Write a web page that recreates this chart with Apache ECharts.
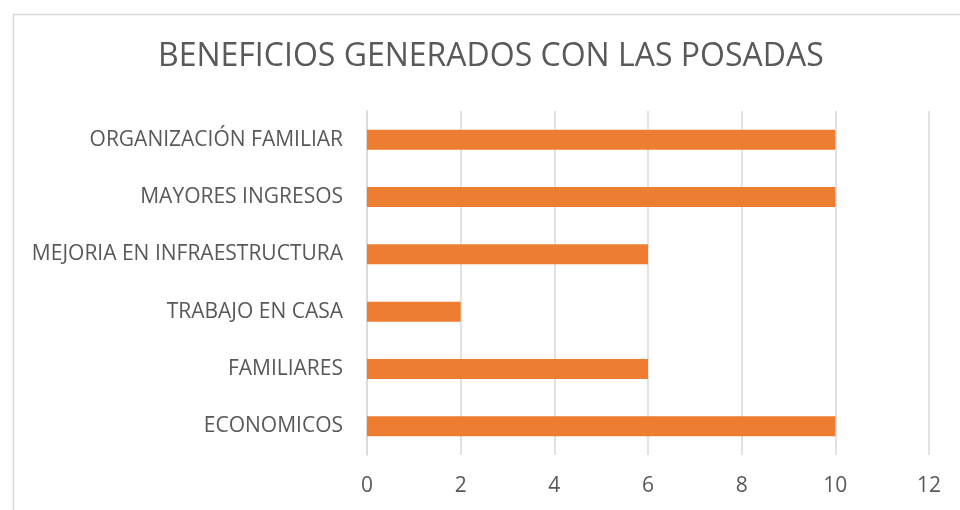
<!DOCTYPE html>
<html>
<head>
<meta charset="utf-8">
<script src="https://cdn.jsdelivr.net/npm/echarts@6/dist/echarts.min.js"></script>
<style>html,body{margin:0;padding:0;background:#fff;}#c{width:960px;height:510px;}</style>
</head>
<body>
<div id="c"></div>
<script>
const categories = ['ECONOMICOS', 'FAMILIARES', 'TRABAJO EN CASA', 'MEJORIA EN INFRAESTRUCTURA', 'MAYORES INGRESOS', 'ORGANIZACIÓN FAMILIAR'];
const values = [10, 6, 2, 6, 10, 10];
const titleText = 'BENEFICIOS GENERADOS CON LAS POSADAS';

const chart = echarts.init(document.getElementById('c'));
const font = '"Open Sans", "Noto Sans", sans-serif';
chart.setOption({
  animation: false,
  backgroundColor: '#fff',
  graphic: [{
    type: 'rect', left: 11, top: 12, silent: true,
    shape: { width: 1000, height: 600 },
    style: { fill: 'none', stroke: '#d9d9d9', lineWidth: 1.5 }
  }],
  title: {
    text: titleText, left: 153, top: 36,
    textStyle: { fontFamily: font, fontSize: 32, fontWeight: 'normal', color: '#595959' }
  },
  grid: { left: 367, right: 31, top: 111, bottom: 55 },
  xAxis: {
    type: 'value', min: 0, max: 12, interval: 2,
    axisLine: { show: false }, axisTick: { show: false },
    splitLine: { lineStyle: { color: '#d9d9d9', width: 1.5 } },
    axisLabel: { fontFamily: font, fontSize: 21, color: '#595959', margin: 21 }
  },
  yAxis: {
    type: 'category', data: categories,
    axisLine: { show: true, lineStyle: { color: '#d9d9d9', width: 1.5 } },
    axisTick: { show: false },
    axisLabel: { fontFamily: font, fontSize: 21, color: '#595959', margin: 24 }
  },
  series: [{
    type: 'bar', data: values, barWidth: '35%',
    itemStyle: { color: '#ED7D31' }
  }]
});
</script>
</body>
</html>
